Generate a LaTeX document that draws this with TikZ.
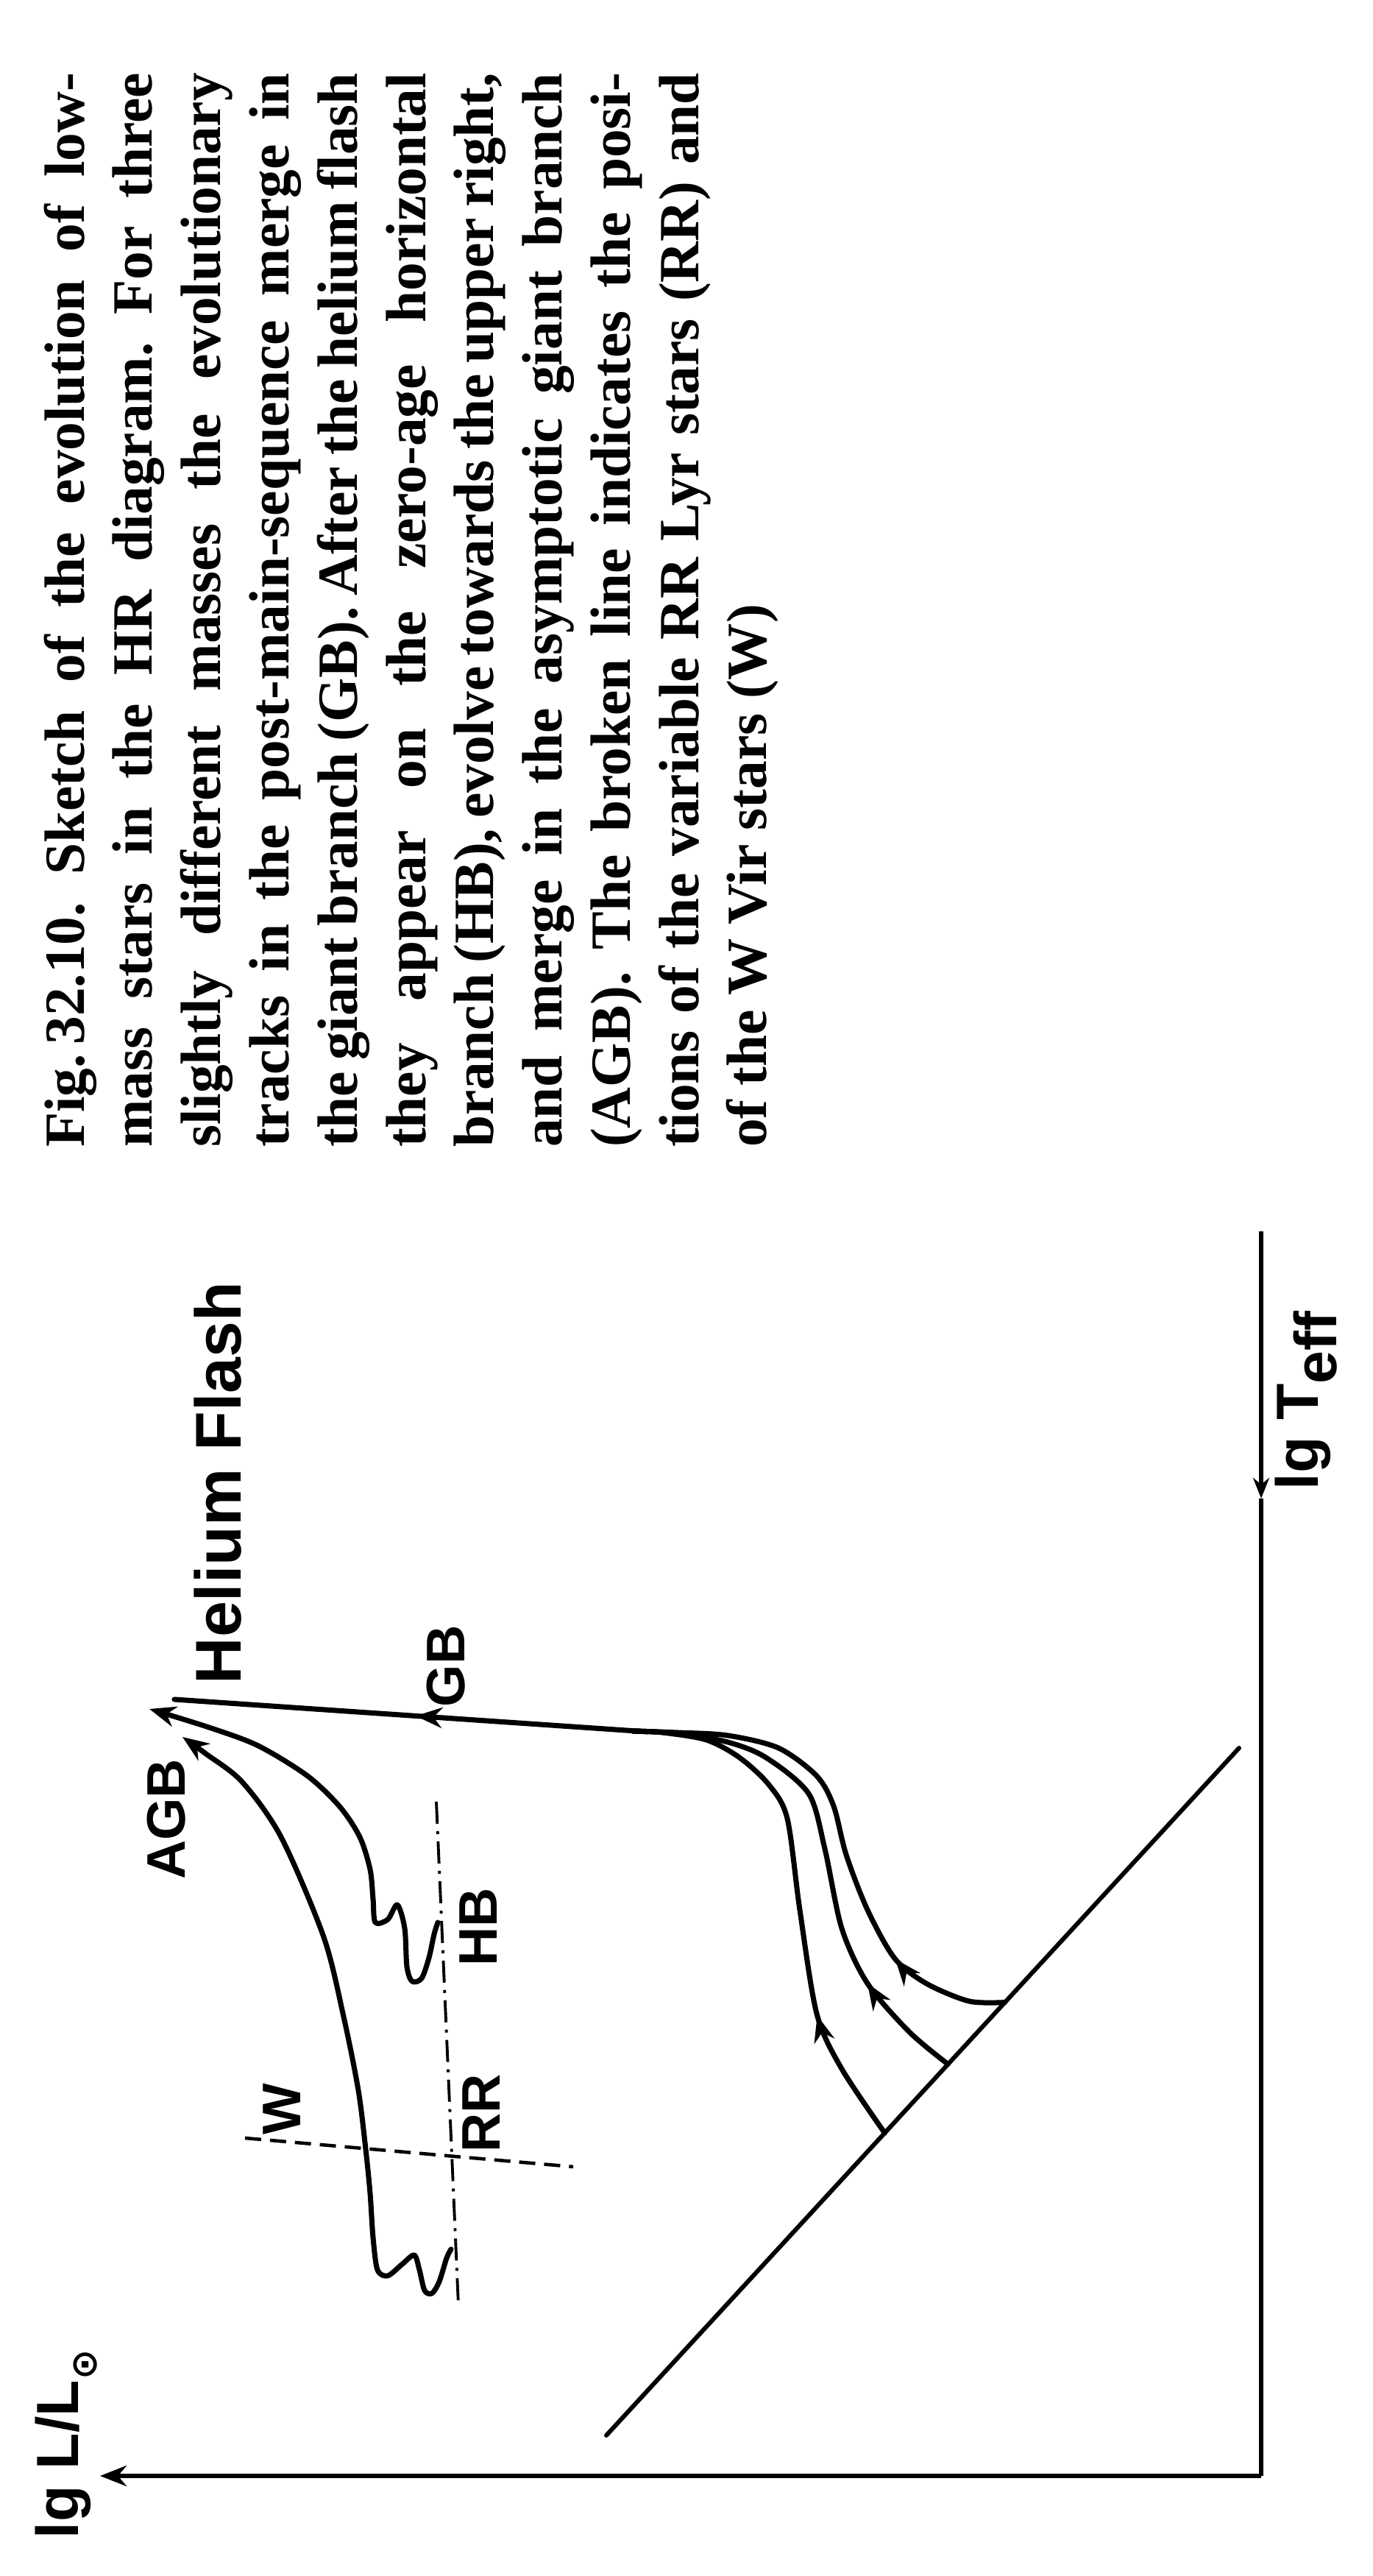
\documentclass[tikz,border=0pt]{standalone}
\usepackage{amsmath}
\usepackage{fontspec}
\setmainfont{Liberation Serif}
\newfontfamily\labelfont{Liberation Sans}
\newfontfamily\symbfont{DejaVu Sans}
\usetikzlibrary{arrows.meta,calc,decorations.markings}

\newlength\capw
\setlength\capw{14.6cm}
\newcommand\capline[1]{\hbox to \capw{#1}}
\newcommand\capend[1]{\hbox to \capw{#1\hfil}}
\newcommand\lsub[1]{\raisebox{-0.3em}{#1}}

\begin{document}
\frenchspacing
\begin{tikzpicture}[
    curve/.style={line width=2pt, line cap=round, line join=round},
    axis/.style={line width=1.8pt},
    lbl/.style={rotate=90, inner sep=0pt,
                font=\labelfont\bfseries\fontsize{21}{25}\selectfont},
    axlbl/.style={lbl, font=\labelfont\bfseries\fontsize{23}{27}\selectfont},
    rrline/.style={line width=1.1pt,
                   dash pattern=on 0.3cm off 0.1cm on 0.04cm off 0.1cm},
    wline/.style={line width=1.3pt, dash pattern=on 0.22cm off 0.12cm},
    midarrow/.style={postaction={decorate}, decoration={markings,
        mark=at position #1 with {\arrow{Stealth[length=3.6mm,width=2.8mm]}}}},
    >={Stealth[length=3.6mm,width=2.8mm]}
  ]
  \useasboundingbox (0,0) rectangle (18.66,35);

  % caption, turned with the page
  \node[rotate=90, inner sep=0pt, font=\bfseries\fontsize{22}{26.4}\selectfont]
    (cap) at (5.59,26.71) {\vbox{%
      \capline{Fig.\,32.10. Sketch of the evolution of low-}
      \capline{mass stars in the HR diagram. For three}
      \capline{slightly different masses the evolutionary}
      \capline{tracks in the post-main-sequence merge in}
      \capline{the giant branch (GB). After the helium flash}
      \capline{they appear on the zero-age horizontal}
      \capline{branch (HB), evolve towards the upper right,}
      \capline{and merge in the asymptotic giant branch}
      \capline{(AGB). The broken line indicates the posi-}
      \capline{tions of the variable RR Lyr stars (RR) and}
      \capend{of the W Vir stars (W)}}};

  % axes
  \coordinate (O)    at (17.14,1.36);
  \coordinate (ytip) at (1.36,1.36);
  \coordinate (xtop) at (17.14,18.27);
  \coordinate (xarr) at (17.14,14.64);
  \draw[axis, ->] (O) -- (ytip);
  \draw[axis, -{Stealth[length=2.8mm,width=2.2mm]}] (xtop) -- (xarr);
  \draw[axis] (xarr) -- (O);
  \node[axlbl] (lgL) at (0.90,1.79)
    {lg L/L\lsub{\symbfont\bfseries\fontsize{14}{14}\selectfont ⊙}};
  \node[axlbl] (lgT) at (17.75,15.97) {lg T\lsub{eff}};

  % zero-age main sequence
  \coordinate (z0) at (8.24,1.91);
  \coordinate (z1) at (16.84,11.25);
  \draw[curve, line width=1.7pt] (z0) -- (z1);
  \coordinate (sA) at ($(z0)!0.44!(z1)$);
  \coordinate (sB) at ($(z0)!0.54!(z1)$);
  \coordinate (sC) at ($(z0)!0.63!(z1)$);

  % three tracks into the giant branch
  \draw[curve, midarrow=1.85cm] plot[smooth] coordinates {(sA) (11.44,6.89)
    (11.10,7.64) (10.87,9.05) (10.70,10.29) (10.45,10.75) (10.05,11.12)
    (9.60,11.36) (9.00,11.46) (8.60,11.48)};
  \draw[curve, midarrow=1.56cm] plot[smooth] coordinates {(sB) (12.36,7.39)
    (11.79,8.05) (11.44,8.80) (11.21,9.88) (10.99,10.63) (10.41,11.12)
    (9.89,11.33) (9.20,11.45) (8.60,11.48)};
  \draw[curve, midarrow=1.66cm] plot[smooth] coordinates {(sC) (13.17,7.81)
    (12.59,8.05) (12.16,8.39) (11.79,9.05) (11.50,9.80) (11.33,10.46)
    (11.10,10.87) (10.58,11.25) (9.89,11.42) (9.20,11.46) (8.60,11.48)};

  % giant branch up to the helium flash
  \coordinate (gb0) at (8.80,11.47);
  \coordinate (tip) at (2.37,11.91);
  \draw[curve, midarrow=0.49] (gb0) -- (tip);

  % horizontal branch and asymptotic giant branch
  \draw[curve, ->] plot[smooth] coordinates {(5.95,8.88) (5.90,8.72)
    (5.83,8.40) (5.73,8.12) (5.60,8.08) (5.53,8.28) (5.50,8.80) (5.40,9.12)
    (5.27,8.92) (5.10,8.88) (5.07,9.20) (5.03,9.60) (4.89,10.04) (4.62,10.45)
    (4.18,10.87) (3.51,11.28) (2.84,11.53) (2.03,11.78)};
  \draw[curve, ->] plot[smooth] coordinates {(6.13,4.44) (6.07,4.32)
    (5.97,4.00) (5.87,3.84) (5.77,3.88) (5.70,4.16) (5.63,4.36) (5.47,4.24)
    (5.27,4.08) (5.13,4.16) (5.07,4.60) (5.03,5.20) (4.97,5.80) (4.87,6.60)
    (4.67,7.60) (4.40,8.68) (3.82,10.04) (3.29,10.79) (2.80,11.17)
    (2.48,11.40)};

  % broken lines for RR Lyr and W Vir stars
  \coordinate (rr0) at (5.93,10.52);
  \coordinate (rr1) at (6.23,3.68);
  \draw[rrline] (rr0) -- (rr1);
  \coordinate (w0) at (3.33,5.95);
  \coordinate (w1) at (7.79,5.56);
  \draw[wline] (w0) -- (w1);

  % labels
  \node[lbl, font=\labelfont\bfseries\fontsize{25}{29}\selectfont]
    (flash) at (2.96,14.85) {Helium Flash};
  \foreach \n/\x/\y in {GB/6.06/12.36, HB/6.50/8.82, RR/6.54/6.29,
                        AGB/2.26/10.28, W/3.83/6.34}
    \node[lbl] (\n) at (\x,\y) {\n};
\end{tikzpicture}
\end{document}
